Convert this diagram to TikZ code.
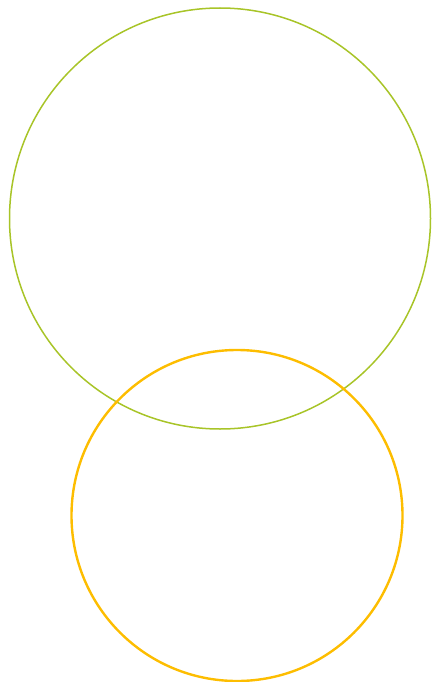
\documentclass[tikz,border=0pt]{standalone}
\usepackage{xcolor}
\usepackage{tikz}
\usetikzlibrary{positioning}
\definecolor{ringgreen}{HTML}{A8C428}
\definecolor{ringorange}{HTML}{FDBD00}

\begin{document}
\begin{tikzpicture}[
    x = 1pt, y = -1pt,
    ring/.style = {
      circle, draw, fill = none, inner sep = 0pt
    },
    upper/.style = {
      ring, draw = ringgreen, line width = 1.5pt, minimum size = 421pt
    },
    lower/.style = {
      ring, draw = ringorange, line width = 2.4pt, minimum size = 331pt
    },
    ]

    % fix the page size
    \useasboundingbox (0, 0) rectangle (432, 682);

    % draw the two circles
    \node  [upper]  (top)     at  (220, 218.5)  {};
    \node  [lower]  (bottom)  at  (237, 515.5)  {};
\end{tikzpicture}
\end{document}
